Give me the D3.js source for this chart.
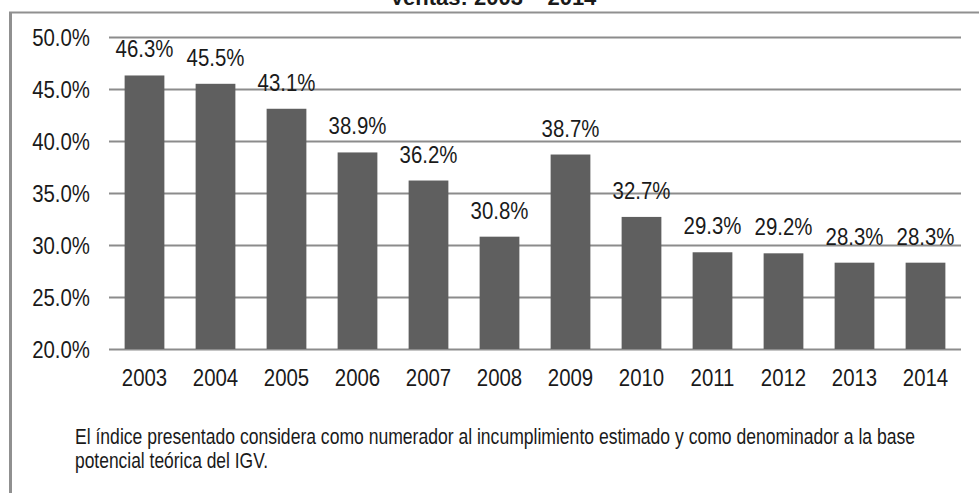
<!DOCTYPE html>
<html lang="es">
<head>
<meta charset="utf-8">
<title>Ventas: 2003 - 2014</title>
<script src="https://cdn.jsdelivr.net/npm/d3@7"></script>
<style>
  body { margin: 0; background: #fff; }
  text { font-family: "Liberation Sans", Arial, sans-serif; fill: #1a1a1a; }
  .title { font-weight: bold; font-size: 22px; }
</style>
</head>
<body>
<script>
// data
var years = ["2003","2004","2005","2006","2007","2008","2009","2010","2011","2012","2013","2014"];
var values = [46.3, 45.5, 43.1, 38.9, 36.2, 30.8, 38.7, 32.7, 29.3, 29.2, 28.3, 28.3];
var yTicks = [20, 25, 30, 35, 40, 45, 50];
var titleText = "Ventas: 2003 \u2013 2014";
var noteLines = [
  "El \u00edndice presentado considera como numerador al incumplimiento estimado y como denominador a la base",
  "potencial te\u00f3rica del IGV."
];

var W = 979, H = 493;
var margin = {top: 37, right: 18, bottom: 144, left: 109};
var barColor = "#5f5f5f";
var gridColor = "#8c8c8c";
var sx = 0.85; // the original font is a bit condensed

var svg = d3.select("body").append("svg")
  .attr("width", W)
  .attr("height", H);

// frame: top and left border
svg.append("line").attr("x1", 9).attr("x2", W).attr("y1", 12.5).attr("y2", 12.5)
  .attr("stroke", "#909090").attr("stroke-width", 2);
svg.append("line").attr("x1", 10.5).attr("x2", 10.5).attr("y1", 12).attr("y2", H)
  .attr("stroke", "#909090").attr("stroke-width", 3);

// title, cut off by the top of the picture
svg.append("text").attr("class", "title")
  .attr("x", 493).attr("y", 5)
  .attr("text-anchor", "middle")
  .text(titleText);

var x = d3.scaleBand()
  .domain(years)
  .range([margin.left, W - margin.right])
  .paddingInner(0.44)
  .paddingOuter(0.22);

var y = d3.scaleLinear()
  .domain([20, 50])
  .range([H - margin.bottom, margin.top]);

// gridlines + y labels
var yAxis = d3.axisLeft(y)
  .tickValues(yTicks)
  .tickSize(-(W - margin.right - margin.left))
  .tickPadding(19)
  .tickFormat(function(d) { return d3.format(".1f")(d) + "%"; });

var gy = svg.append("g")
  .attr("transform", "translate(" + margin.left + ",0)")
  .call(yAxis);
gy.select(".domain").remove();
gy.selectAll(".tick line").attr("stroke", gridColor).attr("stroke-width", 2);
gy.selectAll(".tick text")
  .style("font-size", "24px")
  .attr("x", -19 / sx)
  .attr("transform", "scale(" + sx + ",1)")
  .attr("dy", "0.36em")
  .attr("fill", "#1a1a1a");

// bars
svg.selectAll("rect.bar")
  .data(values)
  .enter()
  .append("rect")
  .attr("class", "bar")
  .attr("x", function(d, i) { return x(years[i]); })
  .attr("width", x.bandwidth())
  .attr("y", function(d) { return y(d); })
  .attr("height", function(d) { return y(20) - y(d); })
  .attr("fill", barColor);

// data labels
svg.selectAll("text.lbl")
  .data(values)
  .enter()
  .append("text")
  .attr("class", "lbl")
  .attr("transform", function(d, i) {
    return "translate(" + (x(years[i]) + x.bandwidth() / 2) + "," + (y(d) - 18) + ") scale(" + sx + ",1)";
  })
  .attr("text-anchor", "middle")
  .style("font-size", "24px")
  .text(function(d) { return d3.format(".1f")(d) + "%"; });

// x axis labels
var xAxis = d3.axisBottom(x).tickSize(0).tickPadding(20);
var gx = svg.append("g")
  .attr("transform", "translate(0," + (H - margin.bottom) + ")")
  .call(xAxis);
gx.select(".domain").remove();
gx.selectAll(".tick text")
  .style("font-size", "24px")
  .attr("transform", "scale(" + sx + ",1)")
  .attr("fill", "#1a1a1a");

// footnote
svg.selectAll("text.note")
  .data(noteLines)
  .enter()
  .append("text")
  .attr("class", "note")
  .attr("x", 75)
  .attr("y", function(d, i) { return 444 + i * 24; })
  .style("font-size", "22.5px")
  .attr("textLength", function(d, i) { return i === 0 ? 840 : 193; })
  .attr("lengthAdjust", "spacingAndGlyphs")
  .text(function(d) { return d; });
</script>
</body>
</html>
